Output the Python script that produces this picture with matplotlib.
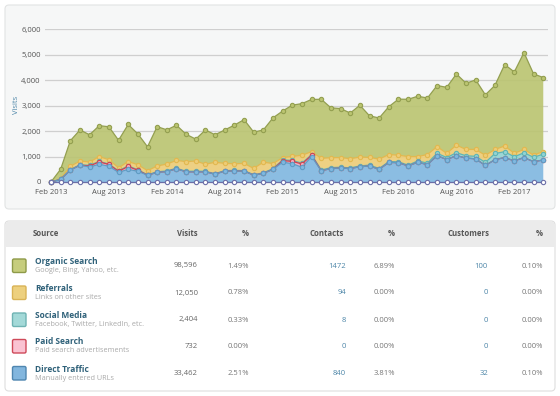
import numpy as np
import matplotlib
matplotlib.use("Agg")
import matplotlib.pyplot as plt
from matplotlib.patches import FancyBboxPatch, Rectangle

plt.rcParams['font.family'] = ['Open Sans', 'DejaVu Sans']

# monthly visits, Feb 2013 .. May 2017
direct = [0, 100, 470, 660, 590, 700, 620, 380, 500, 420,
          270, 380, 410, 520, 400, 400, 400, 310, 430, 430,
          430, 270, 340, 500, 780, 720, 580, 1000, 440, 530,
          550, 530, 600, 630, 500, 770, 760, 630, 780, 680,
          1040, 880, 1040, 940, 910, 650, 880, 960, 830, 960,
          800, 865]
paid = [0, 0, 0, 0, 40, 90, 70, 40, 110, 40,
        0, 0, 0, 0, 0, 0, 0, 0, 0, 0,
        0, 0, 0, 0, 60, 90, 130, 50, 0, 0,
        0, 0, 0, 0, 0, 0, 0, 0, 0, 0,
        0, 0, 0, 0, 0, 0, 0, 0, 0, 0,
        0, 0]
social = [0, 10, 15, 20, 25, 20, 15, 20, 25, 20,
          15, 20, 25, 20, 20, 25, 20, 15, 20, 25,
          20, 15, 20, 25, 30, 35, 30, 25, 30, 35,
          30, 25, 30, 35, 30, 30, 35, 30, 50, 60,
          90, 80, 110, 90, 100, 120, 240, 230, 160, 190,
          170, 230]
referrals = [0, 20, 130, 145, 130, 190, 170, 120, 170, 200,
             160, 230, 270, 310, 380, 400, 280, 450, 285, 260,
             280, 250, 420, 200, 90, 160, 310, 120, 460, 390,
             380, 360, 350, 300, 370, 280, 260, 340, 170, 340,
             260, 165, 300, 250, 270, 280, 160, 225, 140, 130,
             90, 100]
organic = [0, 370, 1005, 1220, 1070, 1215, 1295, 1080, 1455, 1210,
           940, 1545, 1345, 1380, 1075, 860, 1345, 1080, 1310, 1520,
           1720, 1425, 1265, 1795, 1830, 2015, 2030, 2050, 2320, 1960,
           1925, 1795, 2035, 1635, 1615, 1880, 2200, 2250, 2370, 2220,
           2400, 2595, 2795, 2600, 2730, 2375, 2520, 3200, 3195, 3805,
           3185, 2910]
other = [0, 0, 0, 0, 0, 0, 0, 0, 0, 0, 0, 0, 0, 0, 0, 0, 0, 0, 0, 0,
         0, 0, 0, 0, 0, 0, 0, 0, 0, 0, 0, 0, 0, 0, 0, 0, 0, 0, 0, 0,
         0, 0, 0, 0, 0, 0, 0, 0, 0, 0, 0, 0]

tick_labels = ["Feb 2013", "Aug 2013", "Feb 2014", "Aug 2014", "Feb 2015",
               "Aug 2015", "Feb 2016", "Aug 2016", "Feb 2017"]

# table
sources = ["Organic Search", "Referrals", "Social Media", "Paid Search", "Direct Traffic"]
descriptions = ["Google, Bing, Yahoo, etc.", "Links on other sites",
                "Facebook, Twitter, LinkedIn, etc.", "Paid search advertisements",
                "Manually entered URLs"]
visits = ["98,596", "12,050", "2,404", "732", "33,462"]
visit_pct = ["1.49%", "0.78%", "0.33%", "0.00%", "2.51%"]
contacts = ["1472", "94", "8", "0", "840"]
contact_pct = ["6.89%", "0.00%", "0.00%", "0.00%", "3.81%"]
customers = ["100", "0", "0", "0", "32"]
customer_pct = ["0.10%", "0.00%", "0.00%", "0.00%", "0.10%"]

# bottom -> top: direct, paid, social, referrals, organic
fills = ['#80b7e0', '#f5a9bb', '#92d3d3', '#edcc76', '#bac470']
lines = ['#5f9cc4', '#d2434f', '#5fb5b5', '#e2b84f', '#939f50']
swatch_fill = ['#c6cd7d', '#edd07e', '#a3d9d8', '#fac3d2', '#82b6de']
swatch_edge = ['#8e9a48', '#d9b356', '#6fb3b3', '#cf4a5a', '#4f86b0']

fig = plt.figure(figsize=(5.6, 3.96), dpi=100)

# background layer in pixel coordinates
bg = fig.add_axes([0, 0, 1, 1])
bg.set_xlim(0, 560)
bg.set_ylim(396, 0)
bg.axis('off')
bg.add_patch(FancyBboxPatch((5, 5), 550, 204, boxstyle="round,pad=0,rounding_size=4",
                            fc='#f6f7f7', ec='#e2e4e4', lw=0.8))
bg.add_patch(FancyBboxPatch((5, 221), 550, 170, boxstyle="round,pad=0,rounding_size=4",
                            fc='white', ec='#dedede', lw=0.8))
bg.add_patch(FancyBboxPatch((5.5, 221.5), 549, 25, boxstyle="round,pad=0,rounding_size=3.5",
                            fc='#ebebeb', ec='none'))
bg.add_patch(Rectangle((5.5, 238), 549, 9, fc='#ebebeb', ec='none'))
bg.text(17, 105, "Visits", rotation=90, ha='center', va='center', fontsize=5.5, color='#4d86a8')

hdr = dict(fontsize=5.6, fontweight='bold', color='#555555', va='center')
bg.text(33, 234, "Source", ha='left', **hdr)
for x, h in zip([198, 249, 344, 395, 489, 543],
                ["Visits", "%", "Contacts", "%", "Customers", "%"]):
    bg.text(x, 234, h, ha='right', **hdr)

row_y = [266, 293, 320, 346.5, 373.5]
for i, yc in enumerate(row_y):
    bg.add_patch(FancyBboxPatch((12.5, yc - 7), 13.5, 13.5, boxstyle="round,pad=0,rounding_size=1.5",
                                fc=swatch_fill[i], ec=swatch_edge[i], lw=1))
    bg.text(35, yc - 4.5, sources[i], fontsize=6, fontweight='bold', color='#2f6179',
            ha='left', va='center')
    bg.text(35, yc + 4.5, descriptions[i], fontsize=5.2, color='#a9a9a9', ha='left', va='center')
    bg.text(198, yc, visits[i], fontsize=5.5, color='#666666', ha='right', va='center')
    bg.text(249, yc, visit_pct[i], fontsize=5.5, color='#777777', ha='right', va='center')
    bg.text(346, yc, contacts[i], fontsize=5.5, color='#4d86a8', ha='right', va='center')
    bg.text(395, yc, contact_pct[i], fontsize=5.5, color='#777777', ha='right', va='center')
    bg.text(488, yc, customers[i], fontsize=5.5, color='#4d86a8', ha='right', va='center')
    bg.text(543, yc, customer_pct[i], fontsize=5.5, color='#777777', ha='right', va='center')

# chart
ax = fig.add_axes([45 / 560, 1 - 182 / 396, 503 / 560, (182 - 29.3) / 396])
ax.patch.set_alpha(0)
x = np.arange(len(direct))
series = [direct, paid, social, referrals, organic]
ax.set_yticks(range(0, 6001, 1000))
ax.grid(axis='y', color='#cfcfcf', lw=0.9, zorder=0)
ax.stackplot(x, *series, colors=fills, alpha=0.9, zorder=2)
tops = np.cumsum(series, axis=0)
# upper series first so the lower lines stay visible where they coincide
for k in range(len(series) - 1, -1, -1):
    ax.plot(x, tops[k], color=lines[k], lw=0.9, marker='o', ms=3.1,
            mfc=fills[k], mec=lines[k], mew=0.8, zorder=3 + (len(series) - k) * 0.1,
            clip_on=False)
ax.plot(x, other, color='#6b6fa8', lw=0.9, marker='o', ms=3.1, mfc='white',
        mec='#6b6fa8', mew=0.8, zorder=4, clip_on=False)

ax.set_xlim(-0.62, len(direct) - 0.51)
ax.set_ylim(0, 6000)
ax.set_xticks(range(0, 49, 6))
ax.set_xticklabels(tick_labels)
ax.set_yticklabels([f"{v:,}" for v in range(0, 6001, 1000)])
ax.tick_params(length=0, labelsize=5.5, colors='#555555')
ax.tick_params(axis='y', pad=3)
ax.tick_params(axis='x', pad=5)
for s in ax.spines.values():
    s.set_visible(False)

fig.savefig("out.png", dpi=100)
